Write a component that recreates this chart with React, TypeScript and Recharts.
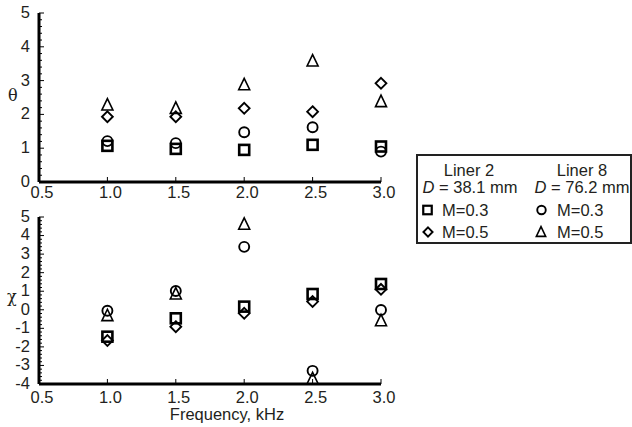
import React from 'react'
import { ScatterChart, Scatter, XAxis, YAxis } from 'recharts'

const FONT = '"Liberation Sans", Arial, Helvetica, sans-serif'
const INK = '#231f20'

// frequency in kHz
const freqs = [1.0, 1.5, 2.0, 2.5, 3.0]
const freqTicks = [0.5, 1.0, 1.5, 2.0, 2.5, 3.0]

// theta (resistance)
const thetaL2M3 = [1.07, 0.98, 0.95, 1.1, 1.05]
const thetaL2M5 = [1.93, 1.93, 2.18, 2.08, 2.92]
const thetaL8M3 = [1.21, 1.15, 1.47, 1.62, 0.9]
const thetaL8M5 = [2.3, 2.2, 2.9, 3.6, 2.4]

// chi (reactance)
const chiL2M3 = [-1.45, -0.46, 0.17, 0.85, 1.39]
const chiL2M5 = [-1.66, -0.91, -0.19, 0.44, 1.1]
const chiL8M3 = [-0.05, 1.01, 3.39, -3.29, -0.01]
const chiL8M5 = [-0.28, 0.89, 4.65, -3.68, -0.55]

const thetaRange = [0, 5]
const chiRange = [-4, 5]

// major ticks every 1, minor every 0.2
const makeTicks = ([lo, hi]: number[]) => {
  const out: number[] = []
  for (let k = lo * 5; k <= hi * 5; k++) out.push(Math.round(k * 2) / 10)
  return out
}

const pts = (ys: number[]) => freqs.map((f, i) => ({ f, v: ys[i] }))

const Square = ({ cx, cy, s = 1 }: any) => (
  <rect x={cx - 5 * s} y={cy - 5 * s} width={10 * s} height={10 * s} fill="none" stroke="#000" strokeWidth={2.6 * s} />
)
const Circle = ({ cx, cy, s = 1 }: any) => (
  <circle cx={cx} cy={cy} r={5 * s} fill="none" stroke="#000" strokeWidth={1.9} />
)
const Diamond = ({ cx, cy, s = 1 }: any) => {
  const h = 5.4 * s
  return (
    <polygon
      points={`${cx},${cy - h} ${cx + h},${cy} ${cx},${cy + h} ${cx - h},${cy}`}
      fill="none"
      stroke="#000"
      strokeWidth={1.9}
    />
  )
}
const Triangle = ({ cx, cy, s = 1 }: any) => {
  const w = 5.5 * s
  const h = 5.7 * s
  return (
    <polygon
      points={`${cx},${cy - h} ${cx + w},${cy + h} ${cx - w},${cy + h}`}
      fill="none"
      stroke="#000"
      strokeWidth={1.6}
    />
  )
}

const YTick = ({ x, y, payload }: any) => {
  const v = payload.value
  const major = Math.abs(v - Math.round(v)) < 1e-6
  return (
    <g>
      <line x1={x} x2={x + (major ? 5 : 3)} y1={y} y2={y} stroke="#000" strokeWidth={1} />
      {major && (
        <text x={x - 9} y={y - 1} dy="0.36em" textAnchor="end" fontSize={16.5} fontFamily={FONT} fill={INK}>
          {v}
        </text>
      )}
    </g>
  )
}

const makeXTick = (gap: number) => ({ x, y, payload }: any) => (
  <g>
    <line x1={x} x2={x} y1={y} y2={y - 5} stroke="#000" strokeWidth={1} />
    <text x={x + 3} y={y + gap} dy="0.71em" textAnchor="middle" fontSize={16.5} fontFamily={FONT} fill={INK}>
      {payload.value.toFixed(1)}
    </text>
  </g>
)

const axisLine = { stroke: '#000', strokeWidth: 3 }

function Panel({
  range,
  series,
  height,
  top,
  xHeight,
  tickGap,
  xLabel,
}: {
  range: number[]
  series: number[][]
  height: number
  top: number
  xHeight: number
  tickGap: number
  xLabel?: string
}) {
  const shapes = [Square, Diamond, Circle, Triangle]
  return (
    <ScatterChart width={400} height={height} margin={{ top, right: 19, bottom: 0, left: 0 }}>
      <XAxis
        type="number"
        dataKey="f"
        domain={[0.5, 3]}
        ticks={freqTicks}
        interval={0}
        tickSize={0}
        tickMargin={0}
        tickLine={false}
        axisLine={axisLine}
        tick={makeXTick(tickGap)}
        height={xHeight}
        label={
          xLabel
            ? { value: xLabel, position: 'insideBottom', offset: 7, dx: 17, fontSize: 16.5, fontFamily: FONT, fill: INK }
            : undefined
        }
      />
      <YAxis
        type="number"
        dataKey="v"
        domain={range}
        ticks={makeTicks(range)}
        interval={0}
        tickSize={0}
        tickMargin={0}
        tickLine={false}
        axisLine={axisLine}
        tick={<YTick />}
        width={39}
      />
      {series.map((ys, i) => {
        const Shape = shapes[i]
        return <Scatter key={i} data={pts(ys)} isAnimationActive={false} shape={(p: any) => <Shape cx={p.cx} cy={p.cy} />} />
      })}
    </ScatterChart>
  )
}

function LegendBox() {
  const t = { fontSize: 16.5, fontFamily: FONT, fill: INK }
  return (
    <div
      style={{
        position: 'absolute',
        left: 416,
        top: 154,
        width: 216,
        height: 90,
        border: '2px solid #222',
        boxSizing: 'border-box',
      }}
    >
      <svg width={212} height={86} style={{ position: 'absolute', left: 0, top: 0 }}>
        <text x={51} y={20} textAnchor="middle" {...t}>Liner 2</text>
        <text x={52} y={37} textAnchor="middle" {...t}>
          <tspan fontStyle="italic">D</tspan> = 38.1 mm
        </text>
        <text x={164} y={20} textAnchor="middle" {...t}>Liner 8</text>
        <text x={164} y={37} textAnchor="middle" {...t}>
          <tspan fontStyle="italic">D</tspan> = 76.2 mm
        </text>
        <Square cx={9.5} cy={54} s={0.85} />
        <text x={24} y={60} {...t}>M=0.3</text>
        <Circle cx={123.5} cy={54} s={0.85} />
        <text x={139} y={60} {...t}>M=0.3</text>
        <Diamond cx={10} cy={76} s={0.85} />
        <text x={24} y={82} {...t}>M=0.5</text>
        <Triangle cx={123} cy={75.5} s={0.85} />
        <text x={139} y={82} {...t}>M=0.5</text>
      </svg>
    </div>
  )
}

export default function App() {
  return (
    <div style={{ position: 'absolute', left: 0, top: 0, width: 632, height: 427, background: '#fff', overflow: 'hidden' }}>
      <div style={{ position: 'absolute', left: 0, top: 0 }}>
        <Panel
          range={thetaRange}
          series={[thetaL2M3, thetaL2M5, thetaL8M3, thetaL8M5]}
          height={200}
          top={13}
          xHeight={18}
          tickGap={4.5}
        />
      </div>
      <div style={{ position: 'absolute', left: 0, top: 200 }}>
        <Panel
          range={chiRange}
          series={[chiL2M3, chiL2M5, chiL8M3, chiL8M5]}
          height={227}
          top={17}
          xHeight={43}
          tickGap={7.5}
          xLabel="Frequency, kHz"
        />
      </div>
      <div style={{ position: 'absolute', left: 8, top: 86, fontFamily: '"DejaVu Serif", "Liberation Serif", serif', fontSize: 16, color: INK }}>
        θ
      </div>
      <div style={{ position: 'absolute', left: 7, top: 287, fontFamily: '"DejaVu Serif", "Liberation Serif", serif', fontSize: 16, color: INK }}>
        χ
      </div>
      <LegendBox />
    </div>
  )
}
